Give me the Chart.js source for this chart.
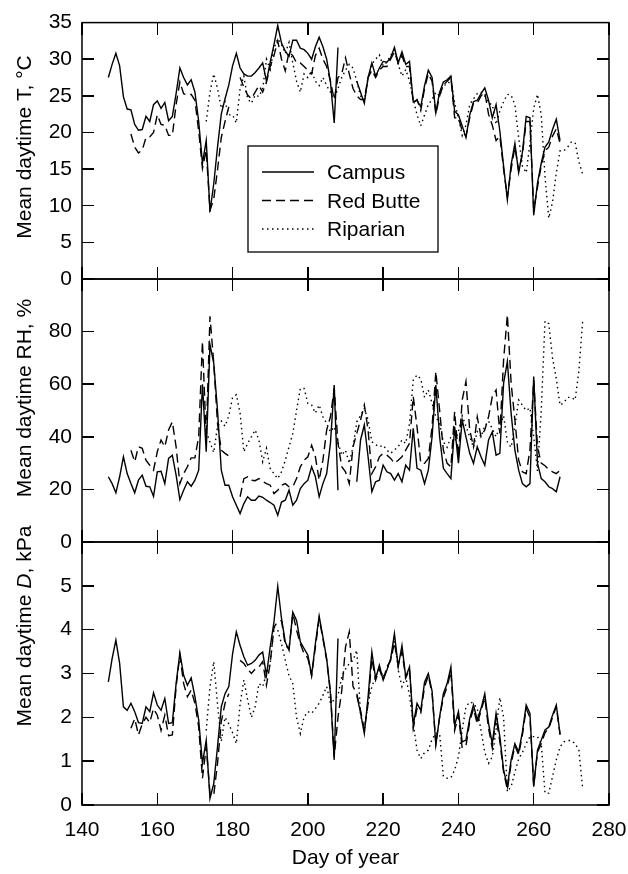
<!DOCTYPE html>
<html>
<head>
<meta charset="utf-8">
<script src="https://cdn.jsdelivr.net/npm/chart.js@4.4.1/dist/chart.umd.min.js"></script>
<style>
  html, body { margin: 0; padding: 0; background: #fff; }
  #wrap { position: relative; width: 628px; height: 874px; }
  #wrap canvas { position: absolute; left: 0; top: 0; }
  #wrap .tick { position: absolute; background: #000; z-index: 5; }
</style>
</head>
<body>
<div id="wrap">
  <canvas id="tempChart" width="628" height="874"></canvas>
  <canvas id="rhChart" width="628" height="874"></canvas>
  <canvas id="vpdChart" width="628" height="874"></canvas>
</div>
<script>
// day of year, one value per day from 147 to 273
const days = Array.from({ length: 127 }, (_, i) => 147 + i);
const dayTicks = [140, 160, 180, 200, 220, 240, 260, 280];
const siteNames = ["Campus", "Red Butte", "Riparian"];

// mean daytime air temperature, °C
const campusT = [
  27.5, 29.3, 30.8, 29.1, 24.9, 23.2, 23.1, 21.1, 20.3, 20.4,
  22.2, 21.5, 23.8, 24.3, 23.3, 24.1, 21.6, 22.2, 25.3, 28.8,
  27.5, 26.5, 27.2, 25.5, 21.5, 15.8, 18.9, 9.2, 13.0, 18.0,
  22.5, 24.6, 26.5, 29.1, 30.8, 28.8, 28.0, 27.7, 27.7, 28.2,
  28.8, 29.5, 27.0, 29.6, 32.0, 34.6, 32.2, 31.1, 30.4, 32.6,
  32.6, 31.5, 31.3, 30.8, 30.0, 31.7, 33.0, 31.7, 30.0, 26.9,
  21.3, 31.6, null, null, null, null, 27.0, 25.5, 24.0, 27.5,
  29.5, 27.7, 28.8, 29.7, 29.6, 30.2, 31.6, 29.5, 31.0, 29.3,
  29.7, 24.2, 24.4, 23.5, 26.4, 28.5, 27.5, 22.7, 25.5, 26.9,
  27.2, 27.7, 22.9, 22.4, 20.9, 19.3, 22.4, 24.2, 24.4, 25.3,
  26.1, 24.4, 22.0, 23.8, 20.2, 15.4, 10.8, 15.6, 18.5, 14.5,
  17.3, 22.2, 22.0, 8.7, 13.1, 15.8, 18.0, 18.7, 20.4, 21.8,
  18.9, null, null, null, null, null, null
];
const redButteT = [
  null, null, null, null, null, null, 19.8, 18.0, 17.2, 17.6,
  19.3, 19.4, 20.0, 22.4, 21.1, 21.0, 19.6, 19.6, 23.8, 26.9,
  25.3, 25.1, 25.2, 24.4, 20.2, 15.1, 17.6, 9.4, 10.9, 14.9,
  19.3, 21.5, 23.5, null, null, 27.5, 26.2, 25.1, 24.6, 25.5,
  26.4, 25.5, 26.9, 29.0, 30.5, 32.5, 30.0, 28.4, 31.0, 30.5,
  29.5, 29.5, 29.0, 28.5, 28.0, 30.5, 31.5, 30.0, 29.0, 27.0,
  24.5, 27.5, 28.0, 30.2, 28.0, 26.0, 25.0, 24.5, 24.5, 27.5,
  28.5, 27.5, 28.5, 29.0, 29.0, 30.0, 31.0, 29.5, 30.5, 29.0,
  29.0, 24.0, 24.5, 23.0, 26.0, 28.0, 27.0, 22.5, 25.0, 26.5,
  27.0, 27.5, 22.0, 22.0, 20.2, 19.5, 22.0, 24.0, 24.0, 25.0,
  25.5, 22.5, 21.0, 18.9, 19.5, 15.0, 11.2, 15.0, 18.0, 14.8,
  17.0, 21.5, 21.5, 9.5, 12.5, 15.5, 17.5, 18.0, 19.5, 20.5,
  18.5, null, null, null, null, null, null
];
const riparianT = [
  null, null, null, null, null, null, null, null, null, null,
  null, null, null, null, null, null, null, null, null, null,
  null, null, null, null, null, null, 21.5, 25.5, 28.0, 26.0,
  23.3, 24.2, 22.4, 22.4, 21.3, 26.0, 27.7, 24.6, 24.0, 25.1,
  24.9, 26.0, 30.0, 28.6, 31.5, 32.8, 32.0, 30.8, 32.3, 29.5,
  27.0, 25.5, 28.0, 27.5, 28.4, 27.0, 26.4, 27.5, 26.4, 25.5,
  24.6, 26.0, 27.5, 28.5, 29.3, 28.8, 27.0, 25.0, 24.4, 27.5,
  29.3, 30.0, 30.6, 29.1, 29.6, 30.5, 31.3, 29.3, 27.7, 28.6,
  27.0, 24.6, 22.4, 20.9, 22.4, 23.8, 24.5, 25.5, 25.0, 26.5,
  26.5, 27.2, 24.0, 22.0, 19.6, 21.0, 23.8, 24.6, 25.3, 25.5,
  25.0, 24.0, 23.8, 21.1, 22.9, 24.2, 25.2, 25.1, 23.8, 19.3,
  15.4, 14.5, 18.5, 23.3, 25.2, 22.4, 14.0, 8.3, 10.5, 14.5,
  17.5, 17.5, 18.0, 18.7, 18.6, 16.0, 14.3
];

// mean daytime relative humidity, %
const campusRH = [
  24.8, 22.2, 18.7, 24.8, 32.4, 26.0, 22.2, 18.7, 23.5, 25.4,
  21.2, 21.0, 17.4, 26.7, 26.9, 22.2, 31.8, 33.0, 25.4, 16.1,
  19.7, 22.9, 21.2, 23.5, 27.3, 60.0, 34.3, 75.0, 68.0, 50.0,
  27.3, 21.6, 21.6, 17.2, 14.0, 10.8, 14.6, 17.2, 15.9, 15.9,
  17.5, 17.0, 15.9, 15.0, 14.0, 10.2, 15.2, 15.9, 19.7, 14.0,
  15.9, 20.3, 22.2, 23.5, 28.6, 24.8, 17.2, 22.2, 26.0, 37.5,
  59.7, 19.7, null, null, null, null, 22.9, 38.8, 44.5, 32.4,
  19.1, 22.9, 23.5, 29.2, 26.7, 26.0, 23.5, 26.0, 22.9, 29.2,
  27.3, 43.2, 28.0, 27.3, 22.2, 27.3, 40.0, 59.7, 40.0, 28.0,
  26.0, 24.1, 43.8, 30.0, 46.4, 40.0, 33.7, 29.9, 36.2, 32.4,
  29.2, 38.8, 41.9, 33.0, 33.7, 60.4, 68.6, 48.9, 34.9, 27.3,
  22.2, 21.0, 22.2, 62.9, 30.0, 24.1, 22.9, 21.0, 20.3, 19.1,
  24.8, null, null, null, null, null, null
];
const redButteRH = [
  null, null, null, null, null, null, 34.9, 30.5, 36.2, 35.6,
  31.1, 29.2, 27.3, 34.3, 38.8, 36.2, 42.6, 45.7, 36.2, 22.2,
  26.0, 28.6, 32.0, 32.0, 40.0, 76.2, 39.4, 85.8, 68.0, 45.1,
  34.9, 33.7, 32.7, null, null, 17.2, 24.1, 24.8, 23.5, 23.3,
  24.1, 23.0, 22.2, 21.6, 18.4, 19.7, 21.6, 22.2, 21.0, 21.0,
  24.1, 28.6, 31.1, 32.4, 36.8, 32.4, 23.5, 31.1, 42.6, 47.6,
  58.4, 37.5, 28.6, 26.7, 22.2, 36.2, 41.3, 46.4, 52.1, 42.6,
  26.0, 28.6, 32.4, 33.7, 33.0, 31.8, 29.9, 31.1, 32.4, 34.9,
  37.5, 55.3, 43.8, 29.9, 29.9, 31.8, 43.8, 64.8, 50.2, 34.9,
  29.9, 28.6, 49.6, 32.4, 54.0, 61.0, 42.6, 36.2, 47.6, 40.0,
  42.6, 47.6, 55.3, 57.8, 41.3, 69.2, 86.4, 60.4, 46.4, 31.1,
  26.7, 26.0, 35.0, 61.6, 36.0, 30.0, 29.0, 27.5, 26.7, 26.0,
  27.3, null, null, null, null, null, null
];
const riparianRH = [
  null, null, null, null, null, null, null, null, null, null,
  null, null, null, null, null, null, null, null, null, null,
  null, null, null, null, null, null, 42.0, 38.0, 34.0, 44.0,
  46.0, 44.0, 48.0, 55.0, 56.0, 49.0, 34.3, 37.5, 40.0, 42.6,
  38.8, 30.5, 35.6, 28.0, 26.0, 24.1, 26.7, 31.0, 36.2, 41.3,
  50.0, 58.4, 58.4, 52.7, 52.1, 49.0, 52.1, 47.6, 45.1, 41.9,
  43.8, 38.0, 33.0, 34.9, 29.9, 36.2, 45.7, 48.0, 50.8, 46.4,
  38.1, 37.0, 36.2, 36.8, 34.9, 33.7, 35.0, 36.2, 38.8, 37.5,
  45.0, 61.6, 63.5, 62.0, 55.0, 57.8, 52.7, 47.6, 45.0, 38.0,
  36.0, 40.0, 38.0, 42.0, 48.0, 44.0, 40.0, 36.0, 42.0, 40.0,
  44.0, 46.0, 43.0, 40.0, 44.0, 48.0, 38.0, 36.0, 44.0, 54.0,
  52.0, 50.0, 51.0, 40.0, 27.0, 50.0, 84.0, 83.0, 70.0, 62.0,
  52.0, 53.0, 55.0, 55.0, 54.0, 65.0, 84.0
];

// mean daytime vapour pressure deficit D, kPa
const campusD = [
  2.81, 3.34, 3.76, 3.23, 2.24, 2.16, 2.32, 2.13, 1.88, 1.86,
  2.24, 2.13, 2.56, 2.28, 2.16, 2.43, 1.86, 1.88, 2.77, 3.47,
  2.96, 2.73, 2.90, 2.47, 1.94, 0.95, 1.48, 0.15, 0.49, 1.33,
  2.24, 2.54, 2.70, 3.45, 3.95, 3.64, 3.38, 3.19, 3.23, 3.30,
  3.42, 3.49, 2.96, 3.61, 4.18, 4.99, 4.25, 3.72, 3.53, 4.40,
  4.21, 3.72, 3.57, 3.42, 2.96, 3.68, 4.31, 3.83, 3.34, 2.54,
  1.03, 3.80, null, null, null, null, 2.50, 2.10, 1.63, 2.47,
  3.49, 2.89, 3.19, 2.85, 3.08, 3.34, 3.91, 3.15, 3.64, 2.92,
  3.15, 1.82, 2.32, 2.16, 2.80, 3.00, 2.60, 1.37, 2.01, 2.54,
  2.77, 3.15, 1.82, 2.13, 1.44, 1.48, 1.97, 2.28, 1.94, 2.20,
  2.54, 1.86, 1.40, 2.09, 1.56, 0.80, 0.42, 1.03, 1.40, 1.21,
  1.67, 2.28, 2.09, 0.42, 1.25, 1.48, 1.71, 1.78, 2.05, 2.28,
  1.62, null, null, null, null, null, null
];
const redButteD = [
  null, null, null, null, null, null, 1.75, 1.97, 1.60, 1.85,
  2.00, 1.88, 2.20, 2.05, 1.70, 2.05, 1.58, 1.60, 2.70, 3.42,
  2.77, 2.47, 2.62, 2.32, 1.78, 0.61, 1.33, 0.27, 0.23, 0.95,
  1.90, 2.32, 2.54, null, null, 3.30, 3.23, 3.10, 3.00, 3.10,
  3.15, 3.27, 2.73, 3.23, 4.06, 4.18, 4.21, 3.64, 3.57, 4.37,
  3.99, 3.68, 3.45, 3.35, 2.95, 3.60, 4.25, 3.80, 3.30, 2.60,
  1.10, 2.00, 2.60, 3.60, 3.95, 2.70, 2.54, 2.16, 1.71, 2.32,
  3.34, 2.85, 3.10, 2.85, 3.15, 3.30, 3.70, 3.20, 3.50, 2.90,
  3.10, 1.75, 2.20, 2.10, 2.70, 2.95, 2.55, 1.40, 2.00, 2.45,
  2.70, 3.05, 1.70, 2.05, 1.30, 1.35, 1.90, 2.20, 1.85, 2.15,
  2.45, 1.75, 1.30, 2.00, 1.45, 0.75, 0.35, 0.95, 1.35, 1.15,
  1.60, 2.20, 2.00, 0.45, 1.20, 1.40, 1.65, 1.75, 2.00, 2.25,
  1.60, null, null, null, null, null, null
];
const riparianD = [
  null, null, null, null, null, null, null, null, null, null,
  null, null, null, null, null, null, null, null, null, null,
  null, null, null, null, null, null, 1.70, 2.70, 3.27, 2.30,
  1.45, 2.00, 1.85, 1.65, 1.40, 2.30, 2.85, 2.40, 2.00, 2.24,
  2.77, 2.70, 3.00, 3.23, 4.06, 3.99, 3.68, 3.30, 2.95, 2.77,
  2.00, 1.63, 2.01, 2.13, 2.09, 2.20, 2.32, 2.50, 2.70, 2.32,
  2.40, 2.50, 2.92, 3.10, 3.23, 3.30, 3.53, 2.05, 1.71, 2.32,
  2.70, 2.92, 3.15, 2.92, 3.10, 3.30, 3.83, 3.08, 2.70, 2.92,
  2.50, 1.86, 1.25, 1.06, 1.20, 1.25, 1.50, 1.63, 1.63, 0.65,
  0.61, 0.62, 0.80, 1.10, 1.71, 2.24, 2.35, 2.32, 2.20, 1.70,
  1.20, 0.95, 1.10, 1.71, 2.45, 2.00, 0.30, 0.42, 0.75, 1.05,
  1.20, 1.40, 1.56, 1.56, 1.56, 1.40, 0.27, 0.27, 0.65, 1.03,
  1.33, 1.44, 1.47, 1.47, 1.40, 1.25, 0.38
];

const FONT = "'Liberation Sans', Arial, Helvetica, sans-serif";
const lineStyles = [[], [9, 5], [1.5, 3.5]];
const TICK_LEN = 12;
const TICK_W = 1.5;

function toPoints(vals) {
  return days.map((d, i) => ({ x: d, y: vals[i] }));
}

// frame, rotated y title and the legend box
function makeDecor(cfg) {
  return {
    id: "decor",
    afterDraw(chart) {
      const ctx = chart.ctx;
      const a = chart.chartArea;
      ctx.save();
      ctx.setLineDash([]);
      ctx.fillStyle = "#000";
      ctx.strokeStyle = "#000";
      ctx.lineWidth = 1.5;
      ctx.strokeRect(a.left, a.top, a.right - a.left, a.bottom - a.top);

      // y title, drawn in pieces so a symbol can be italic
      ctx.textBaseline = "alphabetic";
      ctx.textAlign = "left";
      let total = 0;
      cfg.title.forEach(p => {
        ctx.font = (p.italic ? "italic " : "") + "21px " + FONT;
        total += ctx.measureText(p.text).width;
      });
      ctx.translate(31, cfg.titleY);
      ctx.rotate(-Math.PI / 2);
      let cx = -total / 2;
      cfg.title.forEach(p => {
        ctx.font = (p.italic ? "italic " : "") + "21px " + FONT;
        ctx.fillText(p.text, cx, 0);
        cx += ctx.measureText(p.text).width;
      });
      ctx.setTransform(1, 0, 0, 1, 0, 0);

      if (cfg.legend) {
        const box = cfg.legend;
        ctx.lineWidth = 1.3;
        ctx.strokeRect(box.x, box.y, box.w, box.h);
        ctx.font = "21px " + FONT;
        chart.data.datasets.forEach((ds, i) => {
          const ly = box.y + 26 + i * 28.5;
          ctx.beginPath();
          ctx.setLineDash(ds.borderDash || []);
          ctx.lineWidth = ds.borderWidth;
          ctx.moveTo(box.x + 14, ly);
          ctx.lineTo(box.x + 66, ly);
          ctx.stroke();
          ctx.setLineDash([]);
          ctx.fillText(ds.label, box.x + 79, ly + 7);
        });
      }
      ctx.restore();
    }
  };
}

function makePanel(id, series, cfg) {
  const datasets = series.map((vals, i) => ({
    label: siteNames[i],
    data: toPoints(vals),
    borderColor: "#000",
    borderWidth: 1.4,
    borderDash: lineStyles[i],
    pointRadius: 0,
    tension: 0,
    spanGaps: false,
    fill: false
  }));

  return new Chart(document.getElementById(id), {
    type: "line",
    data: { datasets },
    options: {
      responsive: false,
      animation: false,
      devicePixelRatio: 1,
      layout: { autoPadding: false, padding: { left: 0, right: 19, top: cfg.top, bottom: cfg.bottom } },
      plugins: {
        legend: { display: false },
        tooltip: { enabled: false }
      },
      scales: {
        x: {
          type: "linear",
          min: 140,
          max: 280,
          afterBuildTicks: s => { s.ticks = dayTicks.map(v => ({ value: v })); },
          afterFit: s => {
            s.height = cfg.showX ? 69 : 0;
            s.paddingLeft = 0;
            s.paddingRight = 0;
          },
          grid: { display: false, drawTicks: false },
          border: { display: false },
          ticks: { display: cfg.showX, padding: 13, color: "#000", font: { family: FONT, size: 21 } },
          title: {
            display: cfg.showX,
            text: "Day of year",
            color: "#000",
            padding: { top: 0, bottom: 3 },
            font: { family: FONT, size: 21 }
          }
        },
        y: {
          type: "linear",
          min: 0,
          max: cfg.max,
          afterFit: s => { s.width = 82; },
          grid: { display: false, drawTicks: false },
          border: { display: false },
          ticks: {
            stepSize: cfg.step,
            padding: 10,
            color: "#000",
            font: { family: FONT, size: 21 },
            callback: v => (cfg.hideTop && v === cfg.max ? "" : v)
          }
        }
      }
    },
    plugins: [makeDecor(cfg)]
  });
}

// short inward tick marks on all four sides, placed from the chart's own scales
const wrap = document.getElementById("wrap");
function tickMark(left, top, w, h) {
  const d = document.createElement("div");
  d.className = "tick";
  d.style.left = left + "px";
  d.style.top = top + "px";
  d.style.width = w + "px";
  d.style.height = h + "px";
  wrap.appendChild(d);
}
function addTicks(chart) {
  const a = chart.chartArea;
  const xs = chart.scales.x, ys = chart.scales.y;
  dayTicks.forEach(v => {
    const px = xs.getPixelForValue(v);
    tickMark(px - TICK_W / 2, a.top, TICK_W, TICK_LEN);
    tickMark(px - TICK_W / 2, a.bottom - TICK_LEN, TICK_W, TICK_LEN);
  });
  ys.ticks.forEach(t => {
    const py = ys.getPixelForValue(t.value);
    tickMark(a.left, py - TICK_W / 2, TICK_LEN, TICK_W);
    tickMark(a.right - TICK_LEN, py - TICK_W / 2, TICK_LEN, TICK_W);
  });
}

const tempChart = makePanel("tempChart", [campusT, redButteT, riparianT], {
  top: 16, bottom: 874 - 279, max: 35, step: 5, hideTop: false, showX: false,
  title: [{ text: "Mean daytime T, °C" }], titleY: 147,
  legend: { x: 248, y: 146, w: 190, h: 106 }
});

const rhChart = makePanel("rhChart", [campusRH, redButteRH, riparianRH], {
  top: 279, bottom: 874 - 542, max: 100, step: 20, hideTop: true, showX: false,
  title: [{ text: "Mean daytime RH, %" }], titleY: 398
});

const vpdChart = makePanel("vpdChart", [campusD, redButteD, riparianD], {
  top: 542, bottom: 0, max: 6, step: 1, hideTop: true, showX: true,
  title: [{ text: "Mean daytime " }, { text: "D", italic: true }, { text: ", kPa" }], titleY: 626
});

[tempChart, rhChart, vpdChart].forEach(addTicks);
</script>
</body>
</html>
